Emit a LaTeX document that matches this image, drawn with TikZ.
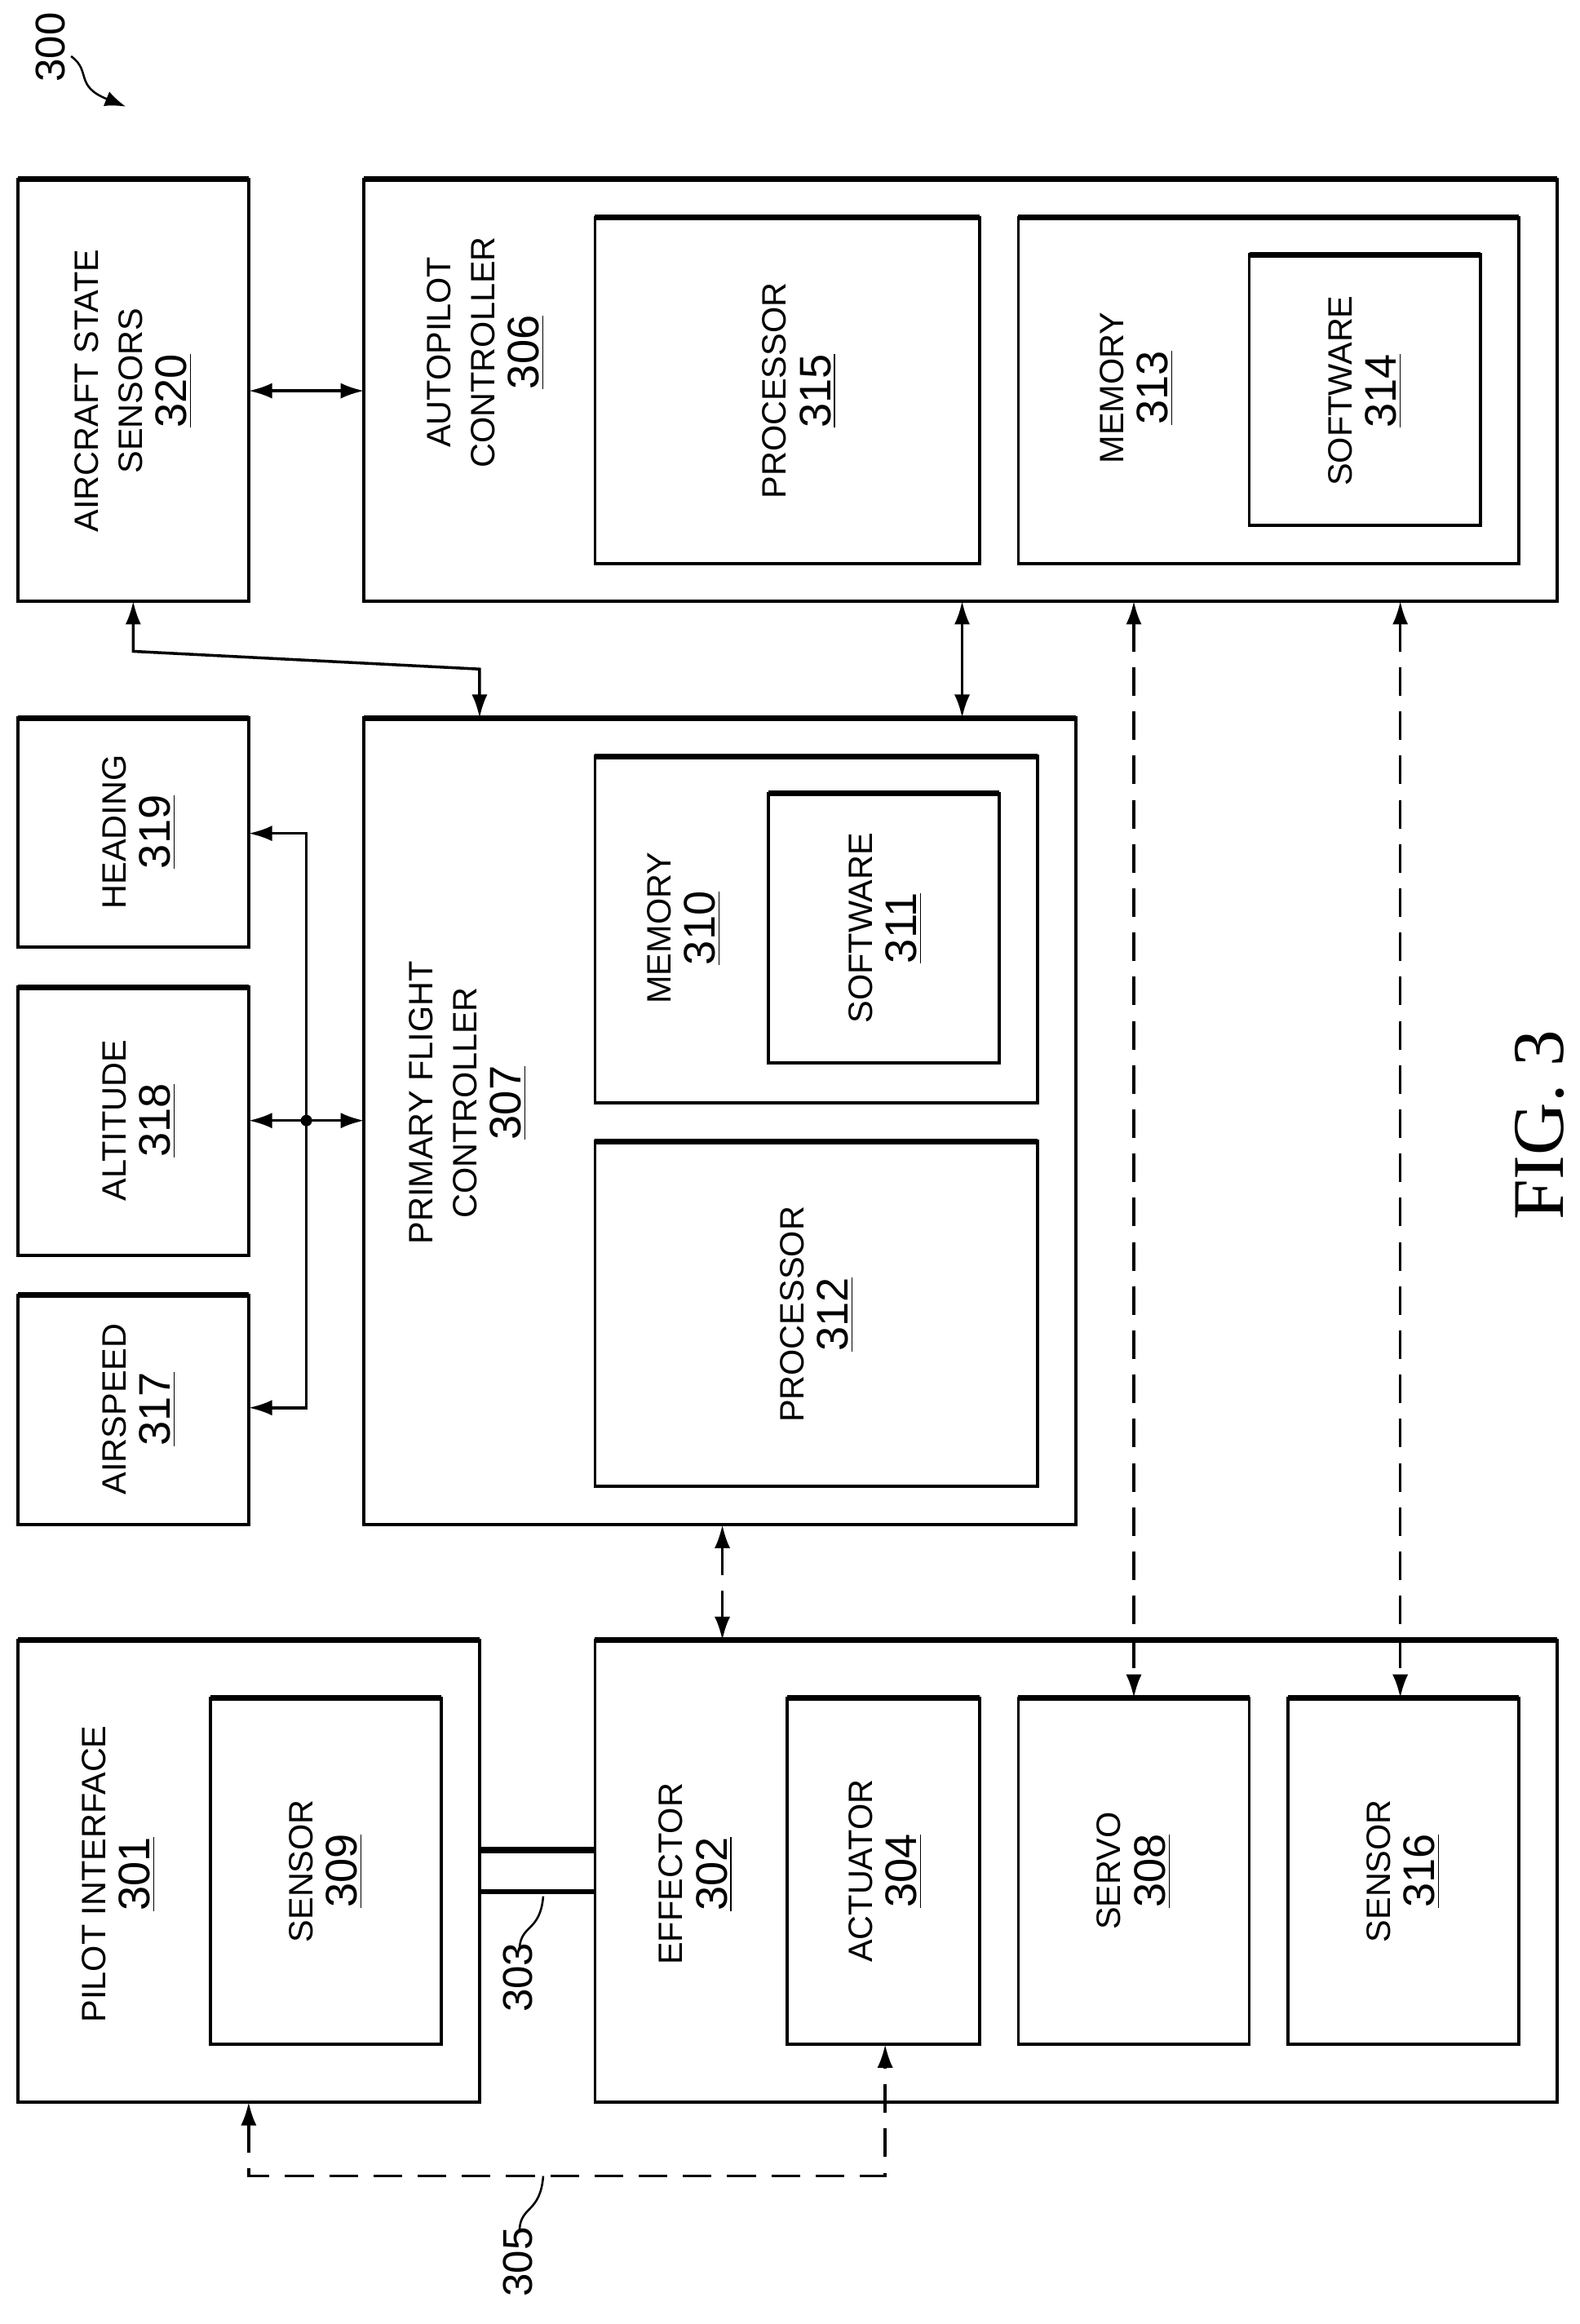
\documentclass[tikz,border=0pt]{standalone}
\usepackage{fontspec}
\setmainfont{Liberation Sans}
\newfontfamily\seriffont{Liberation Serif}
\usetikzlibrary{arrows.meta,decorations.pathmorphing}
\newcommand{\nm}[1]{\fontsize{17}{21}\selectfont\underline{#1}}
\begin{document}
\begin{tikzpicture}[x=0.02cm,y=-0.02cm,
  box/.style={draw,line width=1.2pt},
  lbl/.style={rotate=90,align=center,font=\fontsize{13}{17}\selectfont},
  con/.style={line width=1.1pt,{Latex[length=9pt,width=6pt]}-{Latex[length=9pt,width=6pt]}},
  dcon/.style={con,dash pattern=on 11pt off 6pt},
  top/.style={line width=2.2pt}]
\useasboundingbox (0,0) rectangle (1067,1570);
\newcommand{\bx}[5]{\draw[box] (#2,#3) rectangle (#4,#5); \draw[top] (#2,#3)--(#4,#3); \coordinate (#1) at (#2,#3);}
% boxes
\bx{b320}{12}{121}{168}{406}
\bx{b306}{246}{121}{1052}{406}
\bx{b315}{402}{147}{662}{381}
\bx{b313}{688}{147}{1026}{381}
\bx{b314}{844}{172}{1000}{355}
\bx{b319}{12}{485}{168}{640}
\bx{b318}{12}{667}{168}{848}
\bx{b317}{12}{875}{168}{1030}
\bx{b307}{246}{485}{727}{1030}
\bx{b310}{402}{511}{701}{745}
\bx{b311}{519}{536}{675}{718}
\bx{b312}{402}{771}{701}{1004}
\bx{b301}{12}{1108}{324}{1420}
\bx{b309}{142}{1147}{298}{1381}
\bx{b302}{402}{1108}{1052}{1420}
\bx{b304}{532}{1147}{662}{1381}
\bx{b308}{688}{1147}{844}{1381}
\bx{b316}{870}{1147}{1026}{1381}
% labels
\node[lbl] (t320) at (90,264) {AIRCRAFT STATE\\SENSORS\\\nm{320}};
\node[lbl] (t306) at (328,238) {AUTOPILOT\\CONTROLLER\\\nm{306}};
\node[lbl] (t315) at (540,264) {PROCESSOR\\\nm{315}};
\node[lbl] (t313) at (768,262) {MEMORY\\\nm{313}};
\node[lbl] (t314) at (922,264) {SOFTWARE\\\nm{314}};
\node[lbl] (t319) at (94,562) {HEADING\\\nm{319}};
\node[lbl] (t318) at (94,757) {ALTITUDE\\\nm{318}};
\node[lbl] (t317) at (94,952) {AIRSPEED\\\nm{317}};
\node[lbl] (t307) at (316,745) {PRIMARY FLIGHT\\CONTROLLER\\\nm{307}};
\node[lbl] (t310) at (462,627) {MEMORY\\\nm{310}};
\node[lbl] (t311) at (598,627) {SOFTWARE\\\nm{311}};
\node[lbl] (t312) at (552,888) {PROCESSOR\\\nm{312}};
\node[lbl] (t301) at (80,1266) {PILOT INTERFACE\\\nm{301}};
\node[lbl] (t309) at (220,1264) {SENSOR\\\nm{309}};
\node[lbl] (t302) at (470,1266) {EFFECTOR\\\nm{302}};
\node[lbl] (t304) at (598,1264) {ACTUATOR\\\nm{304}};
\node[lbl] (t308) at (766,1264) {SERVO\\\nm{308}};
\node[lbl] (t316) at (948,1264) {SENSOR\\\nm{316}};
\node[lbl,font=\fontsize{16}{18}\selectfont] (t300) at (34,32) {300};
\node[lbl,font=\fontsize{16}{18}\selectfont] (t303) at (350,1336) {303};
\node[lbl,font=\fontsize{16}{18}\selectfont] (t305) at (350,1528) {305};
\node[lbl,font=\seriffont\fontsize{28}{32}\selectfont] (fig) at (1040,760) {FIG. 3};
% connectors
\draw[con] (168,264) -- (246,264);
\draw[con] (90,406) -- (90,440) -- (324,452) -- (324,485);
\draw[con] (650,406) -- (650,485);
\draw[dcon] (766,406) -- (766,1147);
\draw[dcon] (946,406) -- (946,1147);
\draw[dcon] (488,1030) -- (488,1108);
\draw[line width=1.1pt,-{Latex[length=9pt,width=6pt]}] (207,757) -- (168,757);
\draw[line width=1.1pt,-{Latex[length=9pt,width=6pt]}] (207,757) -- (246,757);
\draw[con] (168,563) -- (207,563) -- (207,951) -- (168,951);
\fill (207,757) circle (2.2pt);
\draw[dcon] (168,1420) -- (168,1470) -- (598,1470) -- (598,1381);
% 303 lines
\draw[line width=2.6pt] (324,1250) -- (402,1250);
\draw[line width=2pt] (324,1278) -- (402,1278);
% leaders
\draw[line width=0.8pt] (367,1281) .. controls (365,1305) and (352,1300) .. (351,1316);
\draw[line width=0.8pt] (367,1470) .. controls (365,1495) and (352,1490) .. (351,1506);
\draw[line width=0.8pt,-{Latex[length=8pt,width=6pt]}] (48,38) .. controls (62,48) and (50,58) .. (85,72);
\end{tikzpicture}
\end{document}
